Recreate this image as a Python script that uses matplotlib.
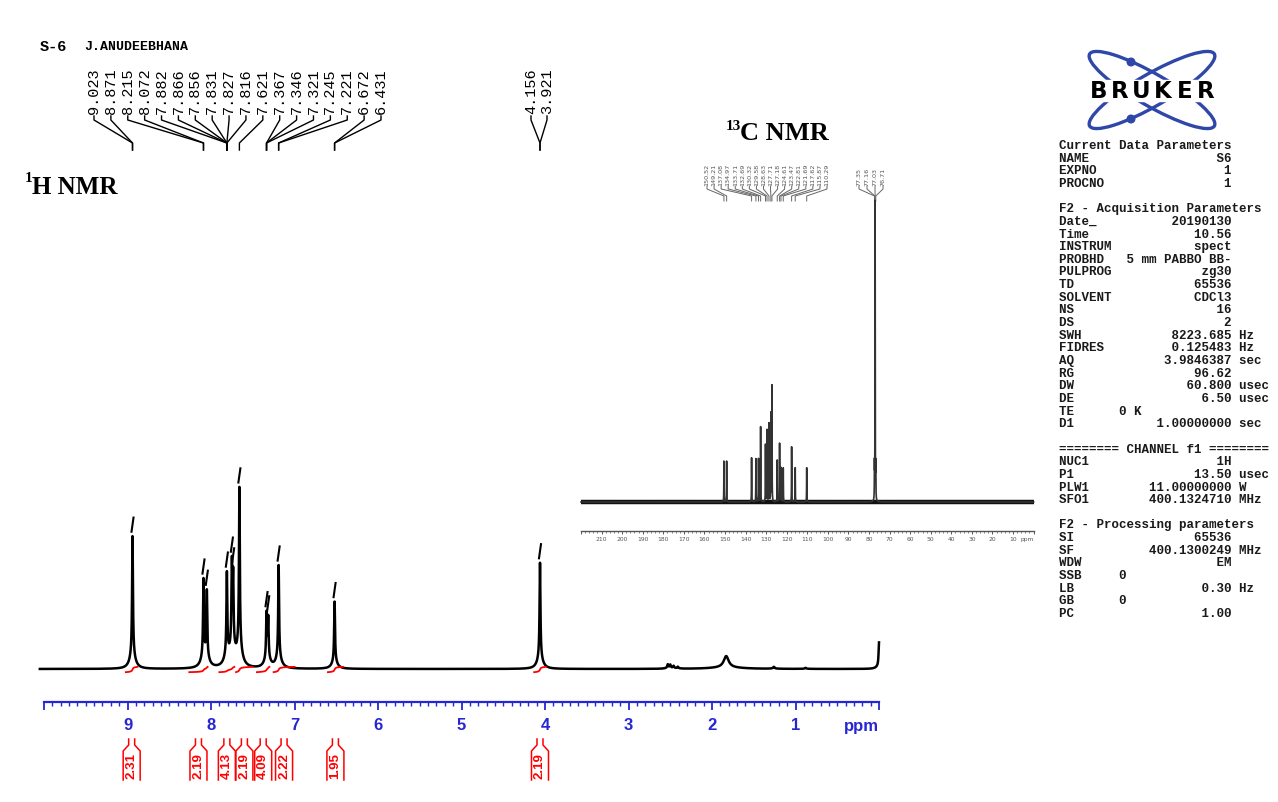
import numpy as np
import matplotlib
matplotlib.use("Agg")
import matplotlib.pyplot as plt
from matplotlib.patches import Ellipse, Circle, Rectangle
from matplotlib.ticker import MultipleLocator

# ---------------- 1H spectrum: peak list (ppm, relative height, FWHM ppm) ----------------
h1_shift = [8.94, 8.09, 8.05, 7.81, 7.75, 7.735, 7.66, 7.335, 7.315, 7.19, 6.52, 4.06,
            2.53, 2.50, 2.46, 2.41, 1.83, 1.26, 0.88, 0.00]
h1_height = [75, 48, 41, 51, 50, 42, 100, 28, 25, 58, 38, 60,
             2.3, 2.0, 1.4, 1.0, 7.3, 1.1, 0.6, 15]
h1_fwhm = [0.012] * 12 + [0.015, 0.015, 0.015, 0.015, 0.07, 0.02, 0.02, 0.012]

# picked peak labels and how many of them lead to each multiplet
h1_peak_labels = ["9.023", "8.871", "8.215", "8.072", "7.882", "7.866", "7.856",
                  "7.831", "7.827", "7.816", "7.621", "7.367", "7.346", "7.321",
                  "7.245", "7.221", "6.672", "6.431", "4.156", "3.921"]
h1_label_groups = [2, 2, 6, 1, 3, 2, 2, 2]

# integral regions (ppm) and values
int_start = [9.02, 8.26, 7.90, 7.70, 7.45, 7.25, 6.60, 4.13]
int_end = [8.88, 8.04, 7.72, 7.50, 7.30, 7.00, 6.42, 3.99]
int_value = [2.31, 2.19, 4.13, 2.19, 4.09, 2.22, 1.95, 2.19]

# ---------------- 13C spectrum ----------------
c13_shift = [150.52, 149.21, 137.08, 134.97, 133.71, 132.69, 130.32, 129.58, 128.63,
             127.71, 127.18, 124.61, 123.47, 122.81, 121.69, 117.62, 115.87, 110.29,
             77.35, 77.16, 77.03, 76.71]
c13_height = [13.7, 13.7, 14.8, 14.5, 14.5, 25.2, 19.2, 24.1, 26.3,
              29.6, 38.9, 14.0, 19.6, 11.4, 11.4, 18.5, 11.5, 11.5,
              11.0, 3.0, 100.0, 11.0]
c13_label_groups = [18, 4]

# ---------------- acquisition / processing parameters ----------------
param_names = ["Current Data Parameters", "NAME", "EXPNO", "PROCNO", "",
               "F2 - Acquisition Parameters", "Date_", "Time", "INSTRUM", "PROBHD",
               "PULPROG", "TD", "SOLVENT", "NS", "DS", "SWH", "FIDRES", "AQ", "RG",
               "DW", "DE", "TE", "D1", "",
               "======== CHANNEL f1 ========", "NUC1", "P1", "PLW1", "SFO1", "",
               "F2 - Processing parameters", "SI", "SF", "WDW", "SSB", "LB", "GB", "PC"]
param_values = ["", "S6", "1", "1", "",
                "", "20190130", "10.56", "spect", "5 mm PABBO BB-",
                "zg30", "65536", "CDCl3", "16", "2", "8223.685", "0.125483", "3.9846387", "96.62",
                "60.800", "6.50", "0 K", "1.00000000", "",
                "", "1H", "13.50", "11.00000000", "400.1324710", "",
                "", "65536", "400.1300249", "EM", "0", "0.30", "0", "1.00"]
param_units = ["", "", "", "", "",
               "", "", "", "", "",
               "", "", "", "", "", "Hz", "Hz", "sec", "",
               "usec", "usec", "", "sec", "",
               "", "", "usec", "W", "MHz", "",
               "", "", "MHz", "", "", "Hz", "", ""]
short_fields = {"TE", "SSB", "GB"}

BLUE = "#2626d2"
W, H = 1278, 803
fig = plt.figure(figsize=(W / 100, H / 100), dpi=100)
fig.patch.set_facecolor("white")


def box(x0, y0, x1, y1):
    """pixel box (origin top-left) -> figure fraction rect"""
    return [x0 / W, 1 - y1 / H, (x1 - x0) / W, (y1 - y0) / H]


ov = fig.add_axes([0, 0, 1, 1])
ov.set_xlim(0, W)
ov.set_ylim(H, 0)
ov.axis("off")


def to_px(ax, xv, yv=0.0):
    disp = ax.transData.transform((xv, yv))
    return ov.transData.inverted().transform(disp)


def lorentz(x, x0, h, w):
    g = w / 2.0
    return h * g * g / ((x - x0) ** 2 + g * g)


def line_shape(x, x0, h, w):
    return 0.88 * lorentz(x, x0, h, w) + 0.12 * lorentz(x, x0, h, 6 * w)


# ================= 1H spectrum =================
ax1 = fig.add_axes(box(44, 440, 879, 690))
ax1.set_xlim(10, 0)
ax1.set_ylim(-11.3, 129.9)
ax1.patch.set_visible(False)

x1 = np.linspace(10.05, 0.0, 30000)
spec1 = np.zeros_like(x1)
for s, h, w in zip(h1_shift, h1_height, h1_fwhm):
    spec1 += line_shape(x1, s, h, w)
ax1.plot(x1, spec1, color="black", lw=1.8, clip_on=False)

# peak-pick ticks above the tops
for s, h in zip(h1_shift, h1_height):
    if h < 20:
        continue
    top = np.interp(s, x1[::-1], spec1[::-1])
    ax1.plot([s + 0.012, s - 0.012], [top + 2.5, top + 10.5], color="black", lw=1.5,
             clip_on=False)

# integral traces
for a, b in zip(int_start, int_end):
    m = (x1 <= a) & (x1 >= b)
    cum = np.cumsum(spec1[m])
    cum = cum / cum[-1]
    ax1.plot(x1[m], -1.8 + 3.0 * cum, color="red", lw=1.3)

# ppm ruler
for side in ("top", "left", "right"):
    ax1.spines[side].set_visible(False)
ax1.spines["bottom"].set_position(("outward", 9.7))
ax1.spines["bottom"].set_color(BLUE)
ax1.spines["bottom"].set_linewidth(1.6)
ticks = list(range(0, 11))
ax1.set_xticks(ticks)
ax1.set_xticklabels(["" if t in (0, 10) else str(t) for t in ticks],
                    fontweight="bold", fontfamily="Liberation Sans", fontsize=12)
ax1.xaxis.set_minor_locator(MultipleLocator(0.1))
ax1.tick_params(axis="x", which="major", length=5.8, width=1.3, color=BLUE,
                direction="out", pad=4.5, labelcolor=BLUE)
ax1.tick_params(axis="x", which="minor", length=2.9, width=1.0, color=BLUE, direction="out")
ax1.set_yticks([])
ax1.annotate("ppm", xy=(0, H - 727), xycoords=("data", "figure pixels"), ha="right",
             va="center", color=BLUE, fontsize=12, fontweight="bold",
             fontfamily="Liberation Sans", annotation_clip=False)

# integral brackets and values
for a, b, v in zip(int_start, int_end, int_value):
    xc = to_px(ax1, (a + b) / 2.0)[0]
    for sg in (-1, 1):
        ov.plot([xc + sg * 3, xc + sg * 3, xc + sg * 8.5, xc + sg * 8.5],
                [740, 746, 752, 781], color="red", lw=1.1)
    ov.text(xc, 766, f"{v:.2f}", rotation=90, ha="center", va="center", color="red",
            fontsize=9.5, fontweight="bold", fontfamily="Liberation Sans")

# peak labels with leader lines
n_main = sum(h1_label_groups[:-1])
label_x = list(np.linspace(94, 381, n_main)) + [531, 547]
anchors = []
i = 0
for g in h1_label_groups:
    mean = np.mean([float(t) for t in h1_peak_labels[i:i + g]])
    near = min(h1_shift[:12], key=lambda s: abs(s - mean))
    anchors += [near] * g
    i += g
for txt, lx, an in zip(h1_peak_labels, label_x, anchors):
    ov.text(lx, 114, txt, rotation=90, ha="center", va="bottom", fontsize=11,
            fontfamily="Liberation Mono", color="black")
    axp = to_px(ax1, an)[0]
    ov.plot([lx, lx, axp, axp], [117, 121, 144, 151], color="black", lw=1.0)

# headings
ov.text(40, 47, "S-6", fontsize=11, fontweight="bold", fontfamily="Liberation Mono",
        va="center", ha="left")
ov.text(84, 47, "J.ANUDEEBHANA", fontsize=9.5, fontweight="bold",
        fontfamily="Liberation Mono", va="center", ha="left")
ov.text(25, 178, "1", fontsize=11, fontweight="bold", fontfamily="Liberation Serif",
        va="center", ha="left")
ov.text(32, 187, "H NMR", fontsize=18, fontweight="bold", fontfamily="Liberation Serif",
        va="center", ha="left")
ov.text(726, 126, "13", fontsize=11, fontweight="bold", fontfamily="Liberation Serif",
        va="center", ha="left")
ov.text(740, 134, "C NMR", fontsize=19, fontweight="bold", fontfamily="Liberation Serif",
        va="center", ha="left")

# ================= 13C inset =================
ax2 = fig.add_axes(box(581, 200, 1033.6, 520))
ax2.set_xlim(220, 0)
ax2.set_ylim(-5.7, 101.7)
ax2.patch.set_visible(False)
x2 = np.linspace(220, 0, 44001)
spec2 = np.zeros_like(x2)
for s, h in zip(c13_shift, c13_height):
    spec2 += lorentz(x2, s, h, 0.12)
ax2.plot([220, 0], [0, 0], color="#111111", lw=3.2, solid_capstyle="butt", clip_on=False)
ax2.plot(x2, spec2, color="#333333", lw=1.2, clip_on=False)
for side in ("top", "left", "right"):
    ax2.spines[side].set_visible(False)
ax2.spines["bottom"].set_position(("outward", 8.6))
ax2.spines["bottom"].set_color("#555555")
ax2.spines["bottom"].set_linewidth(1.0)
t13 = list(range(0, 221, 10))
ax2.set_xticks(t13)
ax2.set_xticklabels(["" if t in (0, 220) else str(t) for t in t13], fontsize=4.3,
                    color="#555555")
ax2.xaxis.set_minor_locator(MultipleLocator(2))
ax2.tick_params(axis="x", which="major", length=2.2, width=0.7, color="#555555", pad=1.5)
ax2.tick_params(axis="x", which="minor", length=1.2, width=0.5, color="#555555")
ax2.set_yticks([])
ax2.annotate("ppm", xy=(0, H - 539.5), xycoords=("data", "figure pixels"), ha="right",
             va="center", color="#555555", fontsize=4.3, annotation_clip=False)

lx13 = list(np.linspace(707, 827, c13_label_groups[0])) + \
    list(np.linspace(859, 883, c13_label_groups[1]))
for s, lx in zip(c13_shift, lx13):
    ov.text(lx, 186, f"{s:.2f}", rotation=90, ha="center", va="bottom", fontsize=4.6,
            color="#555555")
    axp = to_px(ax2, s)[0]
    ov.plot([lx, lx, axp, axp], [187, 190, 197, 202], color="#666666", lw=0.7)

# ================= Bruker logo =================
LOGO = "#2f47a8"
for ang in (30, -30):
    ov.add_patch(Ellipse((1152, 91), 144, 32, angle=ang, fill=False, ec=LOGO, lw=2.4))
for cx, cy in ((1131, 63), (1131, 120)):
    ov.add_patch(Circle((cx, cy), 3.8, color=LOGO))
ov.add_patch(Rectangle((1087, 81), 131, 21, color="white", zorder=3))
for k, ch in enumerate("BRUKER"):
    ov.text(1152 + (k - 2.5) * 21.5, 92, ch, ha="center", va="center", fontsize=16.5,
            fontweight="bold", fontfamily="DejaVu Sans", color="black", zorder=4)

# ================= parameter panel =================
for k, (nm, val, un) in enumerate(zip(param_names, param_values, param_units)):
    if not nm:
        continue
    if not val:
        line = nm
    elif nm in short_fields:
        line = nm.ljust(8) + val
    else:
        line = nm + val.rjust(23 - len(nm))
        if un:
            line += " " + un
    ov.text(1059, 146 + 12.65 * k, line, ha="left", va="center", fontsize=9,
            fontfamily="Liberation Mono", fontweight="bold", color="#1a1a1a")

fig.savefig("out.png", dpi=100, facecolor="white")
